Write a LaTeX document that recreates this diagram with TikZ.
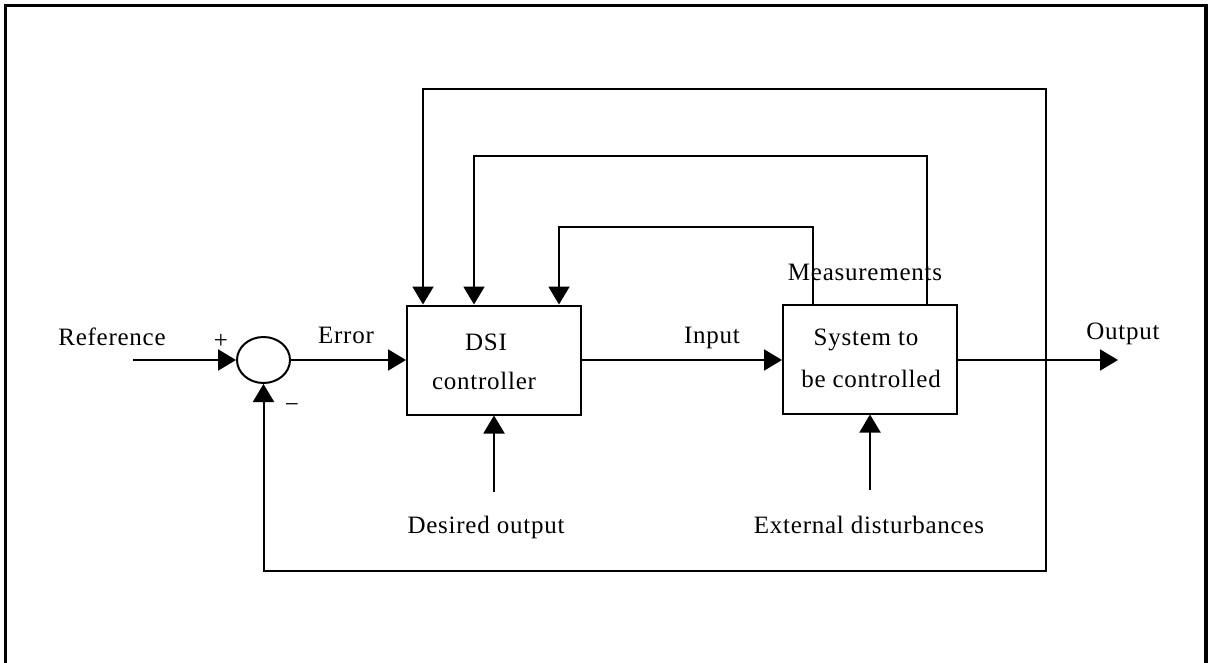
\documentclass[tikz,border=0pt]{standalone}
\usepackage{fontspec}
\setmainfont{Liberation Serif}[LetterSpace=3]
\usetikzlibrary{arrows.meta,shapes.geometric}
\begin{document}
\begin{tikzpicture}[x=1pt,y=-1pt,
  line width=2pt,
  arr/.style={-{Triangle[length=18pt,width=21pt]}},
  blk/.style={draw,rectangle,minimum width=174pt,minimum height=109pt,inner sep=0pt},
  lbl/.style={anchor=base,inner sep=0pt,font=\fontsize{25}{29}\selectfont}]
\useasboundingbox (0,0) rectangle (1209,663);
\draw[line width=3.5pt] (5.5,663) -- (5.5,5.5) -- (1206,5.5) -- (1206,663);

\node[draw,ellipse,minimum width=53pt,minimum height=46pt,inner sep=0pt] (sum) at (263.5,360) {};
\node[blk] (dsi) at (494,360) {};
\node[blk] (sys) at (870,359) {};

\node[lbl] (tref) at (112,345) {Reference};
\node[lbl] (tplus) at (221,348) {+};
\node[lbl] (tminus) at (292,412) {−};
\node[lbl] (terr) at (346,343) {Error};
\node[lbl] (tdsi) at (486,350) {DSI};
\node[lbl] (tctl) at (484,389) {controller};
\node[lbl] (tin) at (712,343) {Input};
\node[lbl] (tsys1) at (866,345) {System to};
\node[lbl] (tsys2) at (871,387) {be controlled};
\node[lbl] (tmeas) at (865,280) {Measurements};
\node[lbl] (tout) at (1123,339) {Output};
\node[lbl] (tdes) at (486,533) {Desired output};
\node[lbl] (text) at (869,533) {External disturbances};

\coordinate (refin) at (133,360);
\coordinate (tap) at (1046,360);
\coordinate (outend) at (1118,360);
\coordinate (fbbot) at (1046,571);
\coordinate (fbtop) at (1046,89);
\coordinate (m1) at (927,156);
\coordinate (m2) at (813,227);
\coordinate (dsrc) at (494,492);
\coordinate (esrc) at (870,490);

\draw[arr] (refin) -- (sum.west);
\draw[arr] (sum.east) -- (sum.east -| dsi.west);
\draw[arr] (dsi.east) -- (dsi.east -| sys.west);
\draw[arr] (sys.east |- tap) -- (outend);
\draw[arr] (tap) -- (fbbot) -| (sum.south);
\draw[arr] (tap) -- (fbtop) -| ([xshift=17pt]dsi.north west);
\draw[arr] (sys.north west -| m1) -- (m1) -| ([xshift=68pt]dsi.north west);
\draw[arr] (sys.north west -| m2) -- (m2) -| ([xshift=153pt]dsi.north west);
\draw[arr] (dsrc) -- (dsi.south);
\draw[arr] (esrc) -- (sys.south);
\end{tikzpicture}
\end{document}
